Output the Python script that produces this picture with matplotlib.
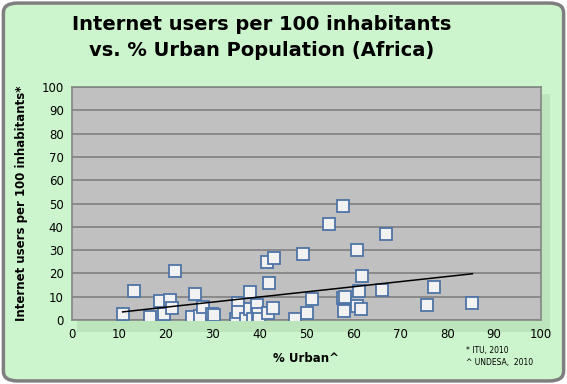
import matplotlib
matplotlib.use("Agg")
import matplotlib.pyplot as plt
import numpy as np
from matplotlib.patches import FancyBboxPatch, Rectangle

# % urban population (x) vs internet users per 100 inhabitants (y)
urban = [10.8, 13.2, 16.7, 18.8, 19.6, 21.0, 21.3, 21.9, 25.5, 26.2, 27.2, 27.9,
         29.9, 30.2, 34.9, 35.3, 35.5, 37.1, 37.9, 38.0, 38.7, 39.4, 39.7, 39.9,
         41.6, 41.7, 42.1, 42.9, 43.0, 47.5, 49.3, 50.2, 51.2, 54.9, 57.7, 57.7,
         57.9, 58.2, 60.7, 60.7, 61.3, 61.6, 61.8, 66.1, 66.9, 75.6, 77.3, 85.4]
internet = [2.4, 12.6, 1.2, 8.2, 2.4, 8.6, 5.3, 21.2, 1.4, 11.0, 1.8, 5.4,
            2.4, 2.0, 0.6, 7.2, 3.6, 0.4, 11.8, 4.6, 0.4, 6.4, 2.6, 0.5,
            25.0, 3.1, 16.0, 5.3, 26.7, 0.5, 28.4, 2.8, 8.8, 41.3, 49.1, 9.3,
            4.0, 10.0, 30.2, 6.1, 12.4, 4.9, 19.0, 12.7, 37.0, 6.6, 14.3, 7.4]

x = np.array(urban)
y = np.array(internet)

fig = plt.figure(figsize=(5.67, 3.84), dpi=100)
fig.patch.set_facecolor("white")

# rounded green background with grey border
bg = FancyBboxPatch((0.006, 0.008), 0.988, 0.984, boxstyle="round,pad=0,rounding_size=0.025",
                    transform=fig.transFigure, facecolor="#cdf5cd", edgecolor="#7f7f7f",
                    linewidth=2.5, zorder=-2)
fig.patches.append(bg)

# soft shadow behind plot area (down/right)
shadow = Rectangle((0.135, 0.135), 0.835, 0.62, transform=fig.transFigure,
                   facecolor="#bce5bc", edgecolor="none", zorder=-1)
fig.patches.append(shadow)

ax = fig.add_axes([0.127, 0.1667, 0.827, 0.6067])
ax.set_zorder(1)

ax.set_facecolor("#c0c0c0")
for s in ax.spines.values():
    s.set_color("#868686")
    s.set_linewidth(1.2)

ax.set_xlim(0, 100)
ax.set_ylim(0, 100)
ax.set_xticks(np.arange(0, 101, 10))
ax.set_yticks(np.arange(0, 101, 10))
ax.tick_params(length=0, labelsize=8.5, pad=6)
ax.yaxis.grid(True, color="#808080", linewidth=1.2)
ax.set_axisbelow(True)

ax.plot(x, y, linestyle="none", marker="s", markersize=8,
        markerfacecolor="#f2f2f2", markeredgecolor="#4f74a8", markeredgewidth=1.3, zorder=3)

# linear trendline over the data range
m, b = np.polyfit(x, y, 1)
xt = np.array([x.min(), x.max()])
ax.plot(xt, m * xt + b, color="black", linewidth=1.1, zorder=4)

ax.set_xlabel("% Urban^", fontsize=8.5, fontweight="bold", labelpad=8)
ax.set_ylabel("Internet users per 100 inhabitants*", fontsize=8.5, fontweight="bold", labelpad=10)

fig.text(0.461, 0.902, "Internet users per 100 inhabitants\nvs. % Urban Population (Africa)",
         ha="center", va="center", fontsize=14, fontweight="bold", linespacing=1.45)

fig.text(0.822, 0.072, "* ITU, 2010\n^ UNDESA,  2010", ha="left", va="center",
         fontsize=5.5, linespacing=1.5)

fig.savefig("out.png", dpi=100, facecolor=fig.get_facecolor())
